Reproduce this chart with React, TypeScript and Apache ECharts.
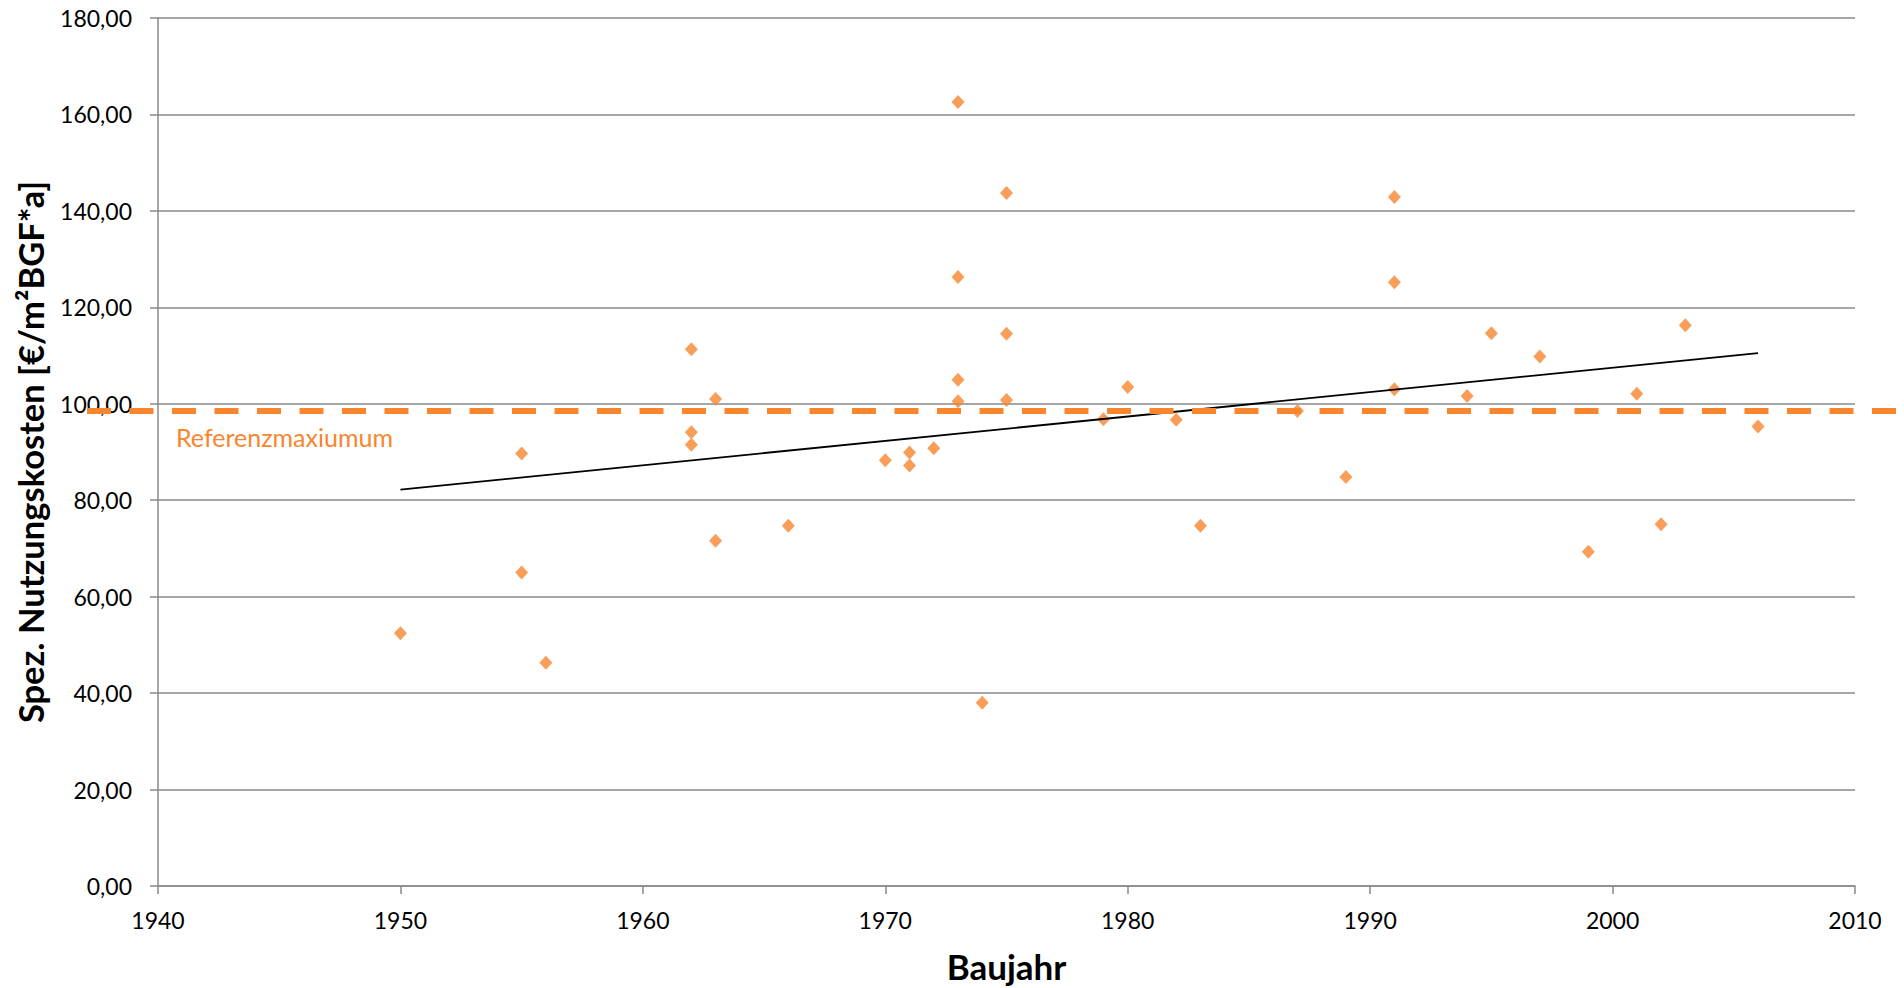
import React, { useEffect, useRef } from "react";
import * as echarts from "echarts";

const years = [
  1950, 1955, 1955, 1956, 1962, 1962, 1962, 1963, 1963, 1966, 1970, 1971, 1971, 1972,
  1973, 1973, 1973, 1973, 1974, 1975, 1975, 1975, 1979, 1980, 1982, 1983, 1987, 1989,
  1991, 1991, 1991, 1994, 1995, 1997, 1999, 2001, 2002, 2003, 2006,
];
const costs = [
  52.4, 89.7, 65.0, 46.3, 111.3, 94.1, 91.5, 101.0, 71.6, 74.7, 88.3, 89.9, 87.2, 90.8,
  162.6, 126.3, 105.0, 100.5, 38.0, 143.7, 114.5, 100.8, 96.8, 103.5, 96.7, 74.7, 98.5, 84.8,
  142.9, 125.2, 103.0, 101.6, 114.6, 109.8, 69.3, 102.1, 75.0, 116.3, 95.3,
];
const trendYears = [1950, 2006];
const trendValues = [82.2, 110.5];
const referenceMax = 98.5;
const referenceLabel = "Referenzmaxiumum";
const xAxisTitle = "Baujahr";
const yAxisTitle = "Spez. Nutzungskosten [€/m²BGF*a]";

const FONT = "Lato, 'Open Sans', sans-serif";
const ORANGE = "#F7862F";
const GREY = "#8a8a8a";

export default function App() {
  const ref = useRef<HTMLDivElement>(null);
  useEffect(() => {
    if (!ref.current) return;
    const chart = echarts.init(ref.current, undefined, { renderer: "svg" });
    const option: any = {
      animation: false,
      backgroundColor: "#ffffff",
      textStyle: { fontFamily: FONT },
      grid: { left: 158, right: 49, top: 18, bottom: 100 },
      xAxis: {
        type: "value",
        min: 1940,
        max: 2010,
        interval: 10,
        name: xAxisTitle,
        nameLocation: "middle",
        nameGap: 62,
        nameTextStyle: { fontFamily: FONT, fontSize: 35, fontWeight: "bold", color: "#000" },
        axisLine: { show: true, lineStyle: { color: GREY, width: 1.5 } },
        axisTick: { show: true, length: 8, lineStyle: { color: GREY, width: 1.5 } },
        axisLabel: {
          fontFamily: FONT,
          fontSize: 23,
          color: "#000",
          margin: 22,
          formatter: (v: number) => String(v),
        },
        splitLine: { show: false },
      },
      yAxis: {
        type: "value",
        min: 0,
        max: 180,
        interval: 20,
        name: yAxisTitle,
        nameLocation: "middle",
        nameGap: 110,
        nameRotate: 90,
        nameTextStyle: { fontFamily: FONT, fontSize: 34.5, fontWeight: "bold", color: "#000" },
        axisLine: { show: true, lineStyle: { color: GREY, width: 1.5 } },
        axisTick: { show: true, length: 8, lineStyle: { color: GREY, width: 1.5 } },
        axisLabel: {
          fontFamily: FONT,
          fontSize: 23,
          color: "#000",
          margin: 26,
          formatter: (v: number) => v.toFixed(2).replace(".", ","),
        },
        splitLine: { show: true, lineStyle: { color: GREY, width: 1.5 } },
      },
      series: [
        {
          type: "scatter",
          data: years.map((y, i) => [y, costs[i]]),
          symbol: "diamond",
          symbolSize: [13, 14],
          itemStyle: { color: ORANGE },
          z: 3,
        },
        {
          type: "line",
          data: trendYears.map((y, i) => [y, trendValues[i]]),
          symbol: "none",
          lineStyle: { color: "#000", width: 1.8 },
          z: 4,
        },
      ],
    };
    chart.setOption(option);
    const ly = chart.convertToPixel({ yAxisIndex: 0 }, referenceMax) as number;
    const gx = chart.convertToPixel({ xAxisIndex: 0 }, 1940) as number;
    chart.setOption({
      graphic: [
        {
          type: "line",
          shape: { x1: 87, y1: ly, x2: 1904, y2: ly },
          style: { stroke: ORANGE, lineWidth: 6, lineDash: [24, 18.5] },
          z: 10,
        },
        {
          type: "text",
          x: gx + 18,
          y: ly + 26,
          style: {
            text: referenceLabel,
            fill: ORANGE,
            font: `25px ${FONT}`,
            verticalAlign: "middle",
            align: "left",
          },
          z: 10,
        },
      ],
    });
    return () => chart.dispose();
  }, []);
  return (
    <div
      ref={ref}
      style={{ position: "fixed", left: 0, top: 0, width: 1904, height: 988, background: "#fff" }}
    />
  );
}
